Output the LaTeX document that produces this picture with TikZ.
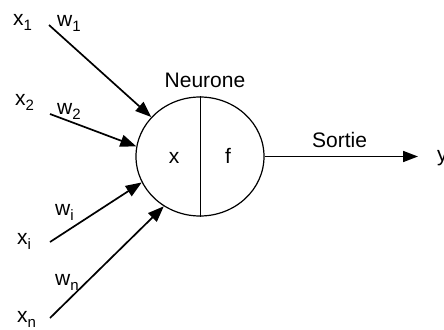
\documentclass[tikz,border=0pt]{standalone}
\usepackage{fontspec}
\setmainfont{Liberation Sans}
\usetikzlibrary{shapes.geometric,arrows.meta}
% subscripted label, e.g. \sublab{x}{1}
\newcommand\sublab[2]{#1\raisebox{-5pt}{\fontsize{15}{15}\selectfont #2}}
\begin{document}
\begin{tikzpicture}[x=1pt,y=-1pt,
  txt/.style={inner sep=0pt,font=\fontsize{21}{24}\selectfont},
  wire/.style={line width=1.7pt,-{Triangle[length=16pt,width=12pt]}},
  neuron/.style={draw,ellipse,line width=1.2pt,minimum width=128pt,minimum height=119pt,inner sep=0pt}]
\useasboundingbox (0,0) rectangle (444,329);

% the neuron
\node[neuron] (n) at (200,156.5) {};
\draw[line width=0.9pt] (n.north) -- (n.south);
\node[txt,anchor=base] (nx) at (174,163) {x};
\node[txt,anchor=base] (nf) at (228,163) {f};
\node[txt,anchor=base] (title) at (205,87) {Neurone};

% inputs
\node[txt,anchor=base west] (x1) at (13,26) {\sublab{x}{1}};
\node[txt,anchor=base west] (w1) at (57,27) {\sublab{w}{1}};
\node[txt,anchor=base west] (x2) at (15,105) {\sublab{x}{2}};
\node[txt,anchor=base west] (w2) at (57,114) {\sublab{w}{2}};
\node[txt,anchor=base west] (xi) at (17,244) {\sublab{x}{i}};
\node[txt,anchor=base west] (wi) at (55,215) {\sublab{w}{i}};
\node[txt,anchor=base west] (xn) at (17,322) {\sublab{x}{n}};
\node[txt,anchor=base west] (wn) at (55,285) {\sublab{w}{n}};

\coordinate (s1) at (49,25);
\coordinate (s2) at (50,114);
\coordinate (si) at (50,242);
\coordinate (sn) at (50,318);

\draw[wire] (s1) -- (n.141);
\draw[wire] (s2) -- (n.171);
\draw[wire] (si) -- (n.204);
\draw[wire] (sn) -- (n.234);

% output
\node[txt,anchor=base west] (y) at (437,161) {y};
\node[txt,anchor=base west] (out) at (312,147) {Sortie};
\draw[wire,-{Triangle[length=15pt,width=11pt]}] (n.east) -- ([xshift=-19pt]n.east -| y.west);
\end{tikzpicture}
\end{document}
